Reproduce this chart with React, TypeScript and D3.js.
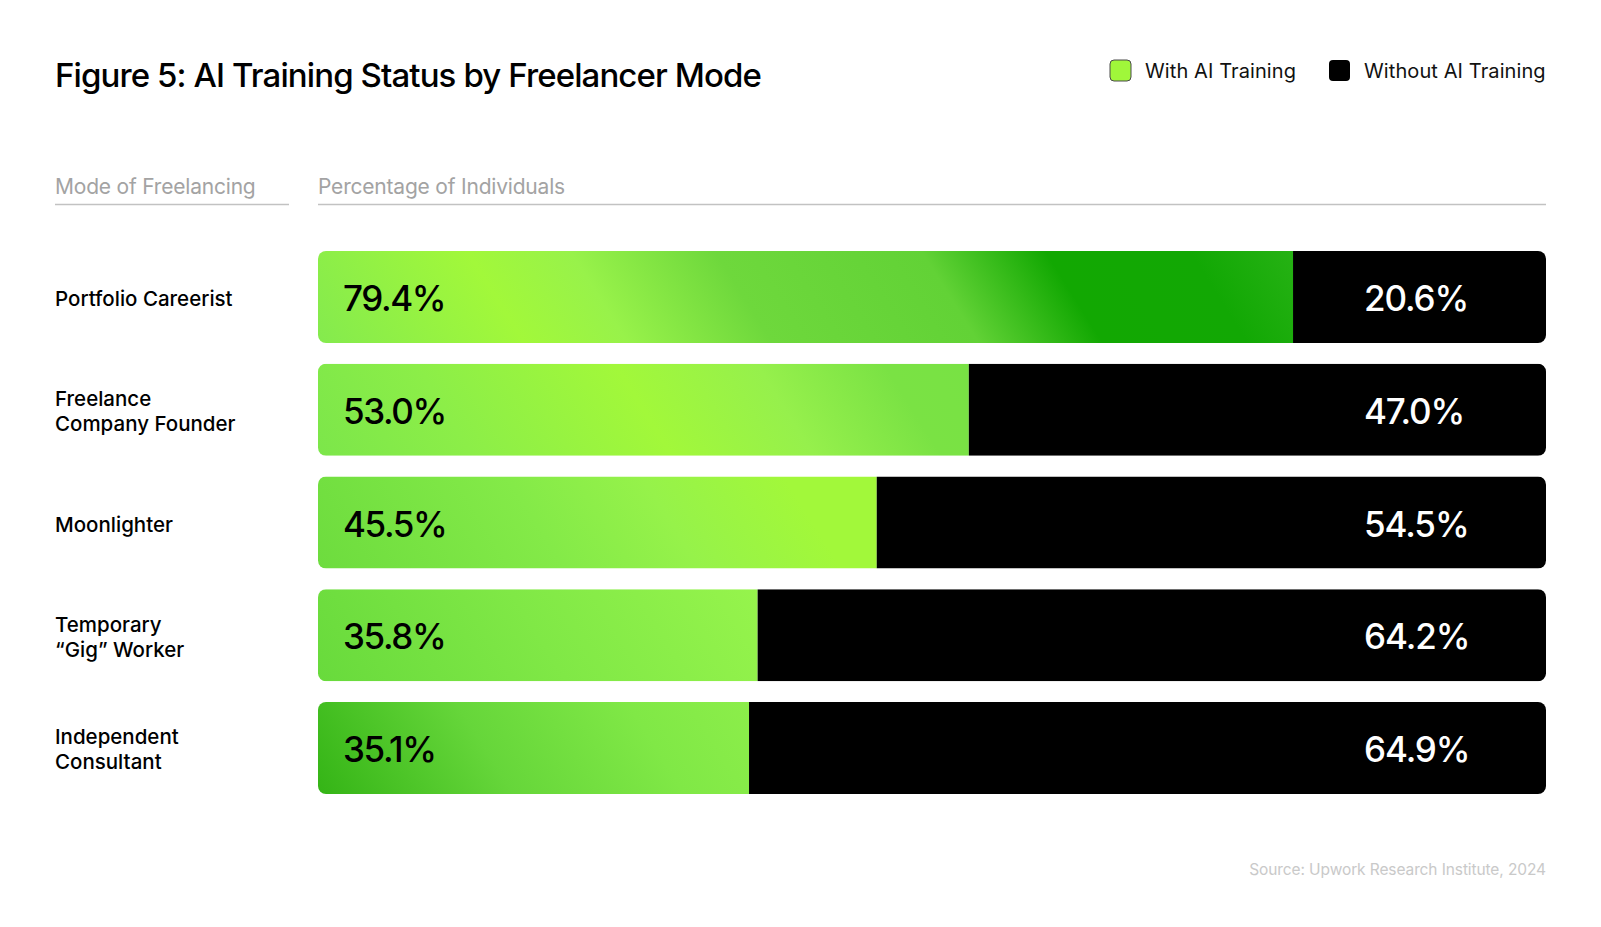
import { useEffect } from "react";
import * as d3 from "d3";

// rows, top to bottom
const categories = [
  "Portfolio Careerist",
  "Freelance\nCompany Founder",
  "Moonlighter",
  "Temporary\n“Gig” Worker",
  "Independent\nConsultant",
];
const withTraining = [79.4, 53.0, 45.5, 35.8, 35.1];
const withoutTraining = [20.6, 47.0, 54.5, 64.2, 64.9];

const seriesNames = ["With AI Training", "Without AI Training"];
const axisTitles = ["Mode of Freelancing", "Percentage of Individuals"];

const title = "Figure 5: AI Training Status by Freelancer Mode";
const source = "Source: Upwork Research Institute, 2024";

// one diagonal gradient per green bar [offset, colour]
const greenStops: [number, string][][] = [
  [
    [0, "#84ea4e"],
    [0.2, "#a2f83a"],
    [0.3, "#98f24a"],
    [0.44, "#6ed83c"],
    [0.64, "#62d236"],
    [0.76, "#12a802"],
    [0.9, "#12a804"],
    [1, "#26b214"],
  ],
  [
    [0, "#7ce64a"],
    [0.22, "#8cee48"],
    [0.5, "#a2f83a"],
    [0.7, "#96f04c"],
    [0.88, "#7ae244"],
    [1, "#78e244"],
  ],
  [
    [0, "#6ddc3e"],
    [0.4, "#84ea48"],
    [0.62, "#96f24a"],
    [0.85, "#a2f83a"],
    [1, "#a2f83a"],
  ],
  [
    [0, "#68da3c"],
    [0.5, "#80e846"],
    [1, "#96f44c"],
  ],
  [
    [0, "#34b416"],
    [0.4, "#66d63a"],
    [0.75, "#80e846"],
    [1, "#8cee4a"],
  ],
];

const W = 1601;
const H = 927;
const font = "Inter, 'Liberation Sans', sans-serif";

export default function App() {
  useEffect(() => {
    document.body.style.margin = "0";
    document.body.style.background = "#fff";
  }, []);

  const x = d3.scaleLinear().domain([0, 100]).range([318, 1546]);
  const y = d3
    .scaleBand<number>()
    .domain(d3.range(categories.length))
    .range([251, 794])
    .paddingInner(0.184);
  const bh = y.bandwidth();
  const angle = (32 * Math.PI) / 180;

  return (
    <svg width={W} height={H} style={{ display: "block", fontFamily: font }}>
      <rect width={W} height={H} fill="#fff" />
      <defs>
        {categories.map((_, i) => {
          const x0 = x(0);
          const w = x(withTraining[i]) - x0;
          const y0 = y(i)!;
          const L = w * Math.cos(angle) + bh * Math.sin(angle);
          return (
            <g key={i}>
              <clipPath id={`bar-clip-${i}`}>
                <rect x={x(0)} y={y0} width={x(100) - x(0)} height={bh} rx={8} />
              </clipPath>
              <linearGradient
                id={`green-${i}`}
                gradientUnits="userSpaceOnUse"
                x1={x0}
                y1={y0 + bh}
                x2={x0 + L * Math.cos(angle)}
                y2={y0 + bh - L * Math.sin(angle)}
              >
                {greenStops[i].map(([o, c], k) => (
                  <stop key={k} offset={o} stopColor={c} />
                ))}
              </linearGradient>
            </g>
          );
        })}
      </defs>

      {/* title */}
      <text x={55} y={87} fontSize={33} fontWeight={500} letterSpacing={-0.9} fill="#000">
        {title}
      </text>

      {/* legend */}
      <rect x={1110} y={60} width={21} height={21} rx={4} fill="#a0f73a" stroke="#4a4a4a" strokeWidth={1} />
      <text x={1145} y={78} fontSize={20} letterSpacing={0.1} fill="#111">
        {seriesNames[0]}
      </text>
      <rect x={1329} y={60} width={21} height={21} rx={4} fill="#000" />
      <text x={1364} y={78} fontSize={20} letterSpacing={0.1} fill="#111">
        {seriesNames[1]}
      </text>

      {/* column headers */}
      <text x={55} y={194} fontSize={21} letterSpacing={-0.2} fill="#a3a3a3">
        {axisTitles[0]}
      </text>
      <line x1={55} x2={289} y1={204.5} y2={204.5} stroke="#c2c2c2" strokeWidth={1.5} />
      <text x={x(0)} y={194} fontSize={21} letterSpacing={-0.2} fill="#a3a3a3">
        {axisTitles[1]}
      </text>
      <line x1={x(0)} x2={x(100)} y1={204.5} y2={204.5} stroke="#c2c2c2" strokeWidth={1.5} />

      {/* rows */}
      {categories.map((cat, i) => {
        const y0 = y(i)!;
        const cy = y0 + bh / 2;
        const lines = cat.split("\n");
        const split = x(withTraining[i]);
        return (
          <g key={cat}>
            {lines.map((ln, k) => (
              <text
                key={k}
                x={55}
                y={cy + 9 + (k - (lines.length - 1) / 2) * 25}
                fontSize={20.5}
                fontWeight={500}
                letterSpacing={0}
                fill="#000"
              >
                {ln}
              </text>
            ))}
            <g clipPath={`url(#bar-clip-${i})`}>
              <rect x={x(0)} y={y0} width={split - x(0)} height={bh} fill={`url(#green-${i})`} />
              <rect x={split} y={y0} width={x(100) - split} height={bh} fill="#000" />
            </g>
            <text x={343} y={cy + 14} fontSize={35} fontWeight={500} letterSpacing={-1.4} fill="#000">
              {withTraining[i].toFixed(1)}%
            </text>
            <text x={1364} y={cy + 14} fontSize={35} fontWeight={500} letterSpacing={-1.1} fill="#fff">
              {withoutTraining[i].toFixed(1)}%
            </text>
          </g>
        );
      })}

      {/* source */}
      <text x={1546} y={875} fontSize={15.5} textAnchor="end" letterSpacing={-0.1} fill="#c9c9c9">
        {source}
      </text>
    </svg>
  );
}
